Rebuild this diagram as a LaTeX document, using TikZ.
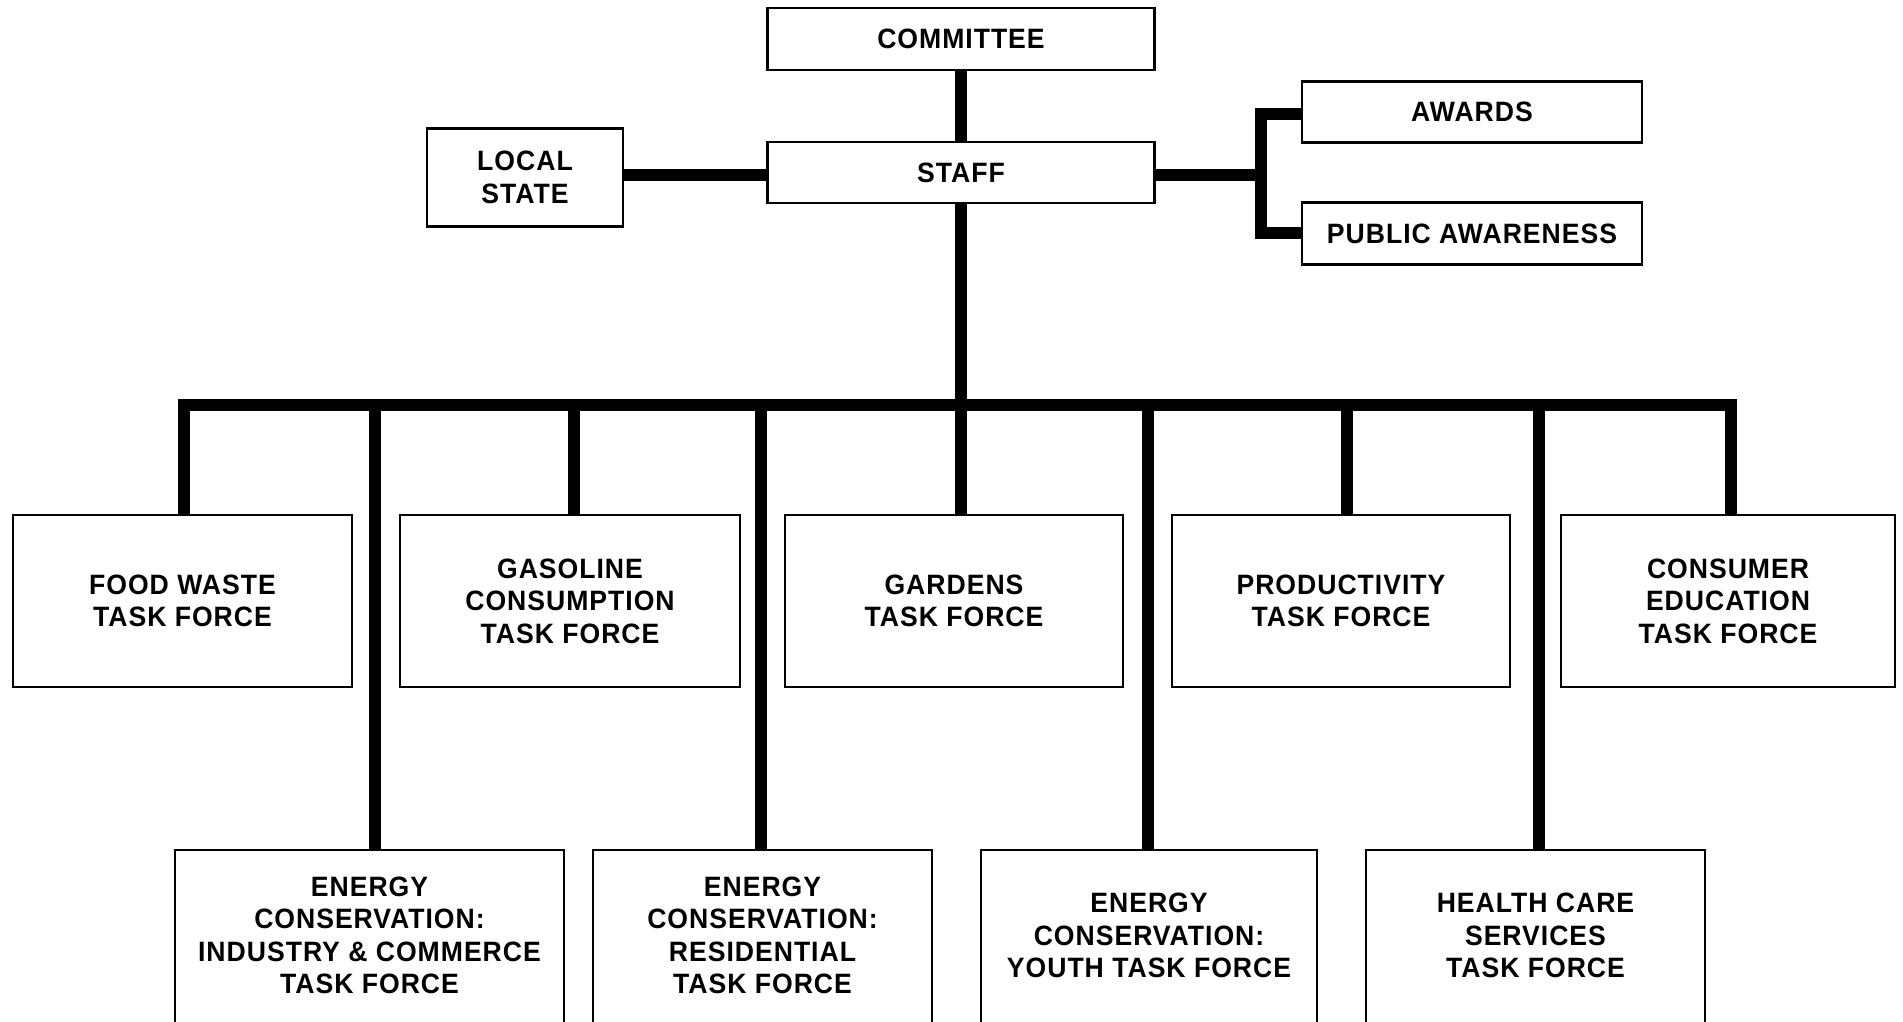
\documentclass[tikz,border=0pt]{standalone}
\usepackage{fontspec}
\newfontfamily\orgfont{Liberation Sans}[LetterSpace=3.5,FakeStretch=0.95]
\begin{document}
\begin{tikzpicture}[x=1pt,y=-1pt,
  box/.style={draw=black, line width=2.5pt, fill=white, inner sep=0pt, outer sep=0pt,
    align=center, font=\orgfont\bfseries\fontsize{28}{32.5}\selectfont},
  openbox/.style={box, draw=none},
  boxline/.style={draw=black, line width=2.5pt, line join=miter},
  conn/.style={line width=12pt, line join=miter, line cap=butt}]
\useasboundingbox (0,0) rectangle (1903,1022);
\fill[white] (0,0) rectangle (1903,1022);
\clip (0,0) rectangle (1903,1022);

% top
\node[box, minimum width=387pt, minimum height=62pt] (committee) at (961,39) {COMMITTEE};
\node[box, minimum width=387pt, minimum height=61pt] (staff) at (961,172.5) {STAFF};
\node[box, minimum width=196pt, minimum height=98pt] (local) at (525,177.5) {LOCAL\\STATE};
\node[box, minimum width=340pt, minimum height=61pt] (awards) at (1472,112) {AWARDS};
\node[box, minimum width=340pt, minimum height=62pt] (public) at (1472,233.5) {PUBLIC AWARENESS};

% row 1
\node[box, minimum width=339pt, minimum height=172pt] (food) at (182.5,601) {FOOD WASTE\\TASK FORCE};
\node[box, minimum width=340pt, minimum height=172pt] (gas) at (570,601) {GASOLINE\\CONSUMPTION\\TASK FORCE};
\node[box, minimum width=338pt, minimum height=172pt] (gardens) at (954,601) {GARDENS\\TASK FORCE};
\node[box, minimum width=338pt, minimum height=172pt] (prod) at (1341,601) {PRODUCTIVITY\\TASK FORCE};
\node[box, minimum width=334pt, minimum height=172pt] (consumer) at (1728,601) {CONSUMER\\EDUCATION\\TASK FORCE};

% row 2 (cut off by the lower edge)
\node[openbox, minimum width=389pt, minimum height=171pt] (ic) at (369.5,935.5) {ENERGY\\CONSERVATION:\\INDUSTRY \& COMMERCE\\TASK FORCE};
\node[openbox, minimum width=339pt, minimum height=171pt] (res) at (762.5,935.5) {ENERGY\\CONSERVATION:\\RESIDENTIAL\\TASK FORCE};
\node[openbox, minimum width=336pt, minimum height=171pt] (youth) at (1149,935.5) {ENERGY\\CONSERVATION:\\YOUTH TASK FORCE};
\node[openbox, minimum width=339pt, minimum height=171pt] (health) at (1535.5,935.5) {HEALTH CARE\\SERVICES\\TASK FORCE};
\foreach \n in {ic,res,youth,health}
  \draw[boxline] ([yshift=-20pt]\n.south west) -- (\n.north west) -- (\n.north east) -- ([yshift=-20pt]\n.south east);

% connectors top
\draw[conn] (committee.south) -- (staff.north);
\draw[conn] (local.east |- 0,175) -- (staff.west |- 0,175);
\coordinate (br) at (1261,175);
\draw[conn] (staff.east |- br) -- (br);
\draw[conn] (awards.west |- 0,114) -| (br) |- (public.west |- 0,233);

% bus
\coordinate (d1) at (184,405);
\coordinate (d2) at (375,405);
\coordinate (d3) at (574,405);
\coordinate (d4) at (761,405);
\coordinate (d5) at (961,405);
\coordinate (d6) at (1148,405);
\coordinate (d7) at (1347,405);
\coordinate (d8) at (1539,405);
\coordinate (d9) at (1731,405);

\draw[conn] (d1 |- food.north) -- (d1) -- (d9) -- (d9 |- consumer.north);
\draw[conn] (staff.south) -- (d5) -- (d5 |- gardens.north);
\draw[conn] (d2) -- (d2 |- ic.north);
\draw[conn] (d3) -- (d3 |- gas.north);
\draw[conn] (d4) -- (d4 |- res.north);
\draw[conn] (d6) -- (d6 |- youth.north);
\draw[conn] (d7) -- (d7 |- prod.north);
\draw[conn] (d8) -- (d8 |- health.north);
\end{tikzpicture}
\end{document}
